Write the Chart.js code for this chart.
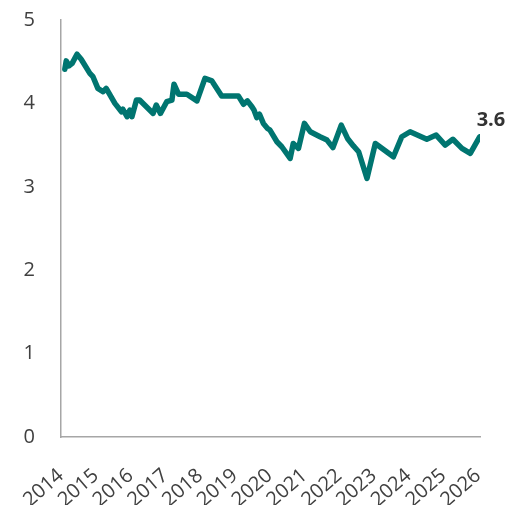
<!DOCTYPE html>
<html>
<head>
<meta charset="utf-8">
<script src="https://cdn.jsdelivr.net/npm/chart.js@4.4.1/dist/chart.umd.min.js"></script>
<style>
  html, body { margin: 0; padding: 0; background: #fff; }
  #wrap { width: 512px; height: 505px; }
</style>
</head>
<body>
<div id="wrap"><canvas id="line-chart"></canvas></div>
<script>
// series: decimal year and value
var years = [
  2014.11, 2014.15, 2014.23, 2014.32, 2014.46, 2014.58, 2014.83, 2014.92,
  2015.06, 2015.21, 2015.30, 2015.55, 2015.74, 2015.78, 2015.90, 2015.98,
  2016.04, 2016.17, 2016.26, 2016.55, 2016.65, 2016.74, 2016.86,
  2017.04, 2017.19, 2017.25, 2017.38, 2017.62, 2017.91,
  2018.14, 2018.34, 2018.62,
  2019.10, 2019.25, 2019.36, 2019.49, 2019.55, 2019.63, 2019.71, 2019.82, 2019.94,
  2020.01, 2020.21, 2020.35, 2020.59, 2020.68, 2020.83,
  2021.00, 2021.17, 2021.45, 2021.65, 2021.82,
  2022.06, 2022.24, 2022.41, 2022.56, 2022.80,
  2023.04, 2023.56, 2023.80,
  2024.04, 2024.52, 2024.79,
  2025.05, 2025.27, 2025.53, 2025.77, 2026.04
];
var values = [
  4.41, 4.51, 4.45, 4.48, 4.59, 4.53, 4.36, 4.32,
  4.18, 4.14, 4.18, 4.00, 3.90, 3.93, 3.84, 3.92,
  3.84, 4.04, 4.04, 3.92, 3.88, 3.98, 3.88,
  4.02, 4.04, 4.23, 4.11, 4.11, 4.03,
  4.30, 4.27, 4.09,
  4.09, 3.99, 4.03, 3.96, 3.92, 3.83, 3.87, 3.76, 3.70,
  3.68, 3.54, 3.48, 3.34, 3.52, 3.46,
  3.76, 3.66, 3.60, 3.56, 3.47,
  3.74, 3.58, 3.49, 3.42, 3.10,
  3.52, 3.36, 3.60,
  3.66, 3.57, 3.62,
  3.50, 3.57, 3.46, 3.40, 3.6
];
var yearTicks = [2014, 2015, 2016, 2017, 2018, 2019, 2020, 2021, 2022, 2023, 2024, 2025, 2026];
var valueTicks = [0, 1, 2, 3, 4, 5];

var lineColor = "#007570";
var textColor = "#404040";
var axisColor = "#a6a6a6";

var points = [];
for (var i = 0; i < years.length; i++) {
  points.push({ x: years[i], y: values[i] });
}

// writes the last value next to the end of the line
var lastLabel = {
  id: "lastLabel",
  afterDatasetsDraw: function(chart) {
    var meta = chart.getDatasetMeta(0);
    var pt = meta.data[meta.data.length - 1];
    var ctx = chart.ctx;
    ctx.save();
    ctx.font = "bold 20px 'Open Sans'";
    ctx.fillStyle = "#333333";
    ctx.textAlign = "left";
    ctx.textBaseline = "alphabetic";
    ctx.fillText(values[values.length - 1].toFixed(1), pt.x - 3, pt.y - 11);
    ctx.restore();
  }
};

var ctx = document.getElementById("line-chart");

var chart = new Chart(ctx, {
  type: "line",
  data: {
    datasets: [{
      data: points,
      borderColor: lineColor,
      backgroundColor: lineColor,
      borderWidth: 5.5,
      borderJoinStyle: "round",
      borderCapStyle: "round",
      pointRadius: 0,
      tension: 0,
      fill: false
    }]
  },
  options: {
    responsive: true,
    maintainAspectRatio: false,
    animation: false,
    layout: { padding: { left: 0, right: 32, top: 20, bottom: 0 } },
    plugins: {
      legend: { display: false },
      tooltip: { enabled: false }
    },
    scales: {
      x: {
        type: "linear",
        min: 2014,
        max: 2026.05,
        afterBuildTicks: function(scale) {
          scale.ticks = yearTicks.map(function(v) { return { value: v }; });
        },
        // fixed axis size, no extra room for the rotated labels
        afterFit: function(scale) {
          scale.height = 68;
          scale.paddingLeft = 0;
          scale.paddingRight = 0;
        },
        grid: { display: false, drawTicks: false },
        border: { display: true, color: axisColor, width: 1.5 },
        ticks: {
          autoSkip: false,
          maxRotation: 41,
          minRotation: 41,
          padding: 27,
          color: textColor,
          font: { family: "'Open Sans'", size: 20 },
          callback: function(v) { return String(v); }
        }
      },
      y: {
        min: 0,
        max: 5,
        afterBuildTicks: function(scale) {
          scale.ticks = valueTicks.map(function(v) { return { value: v }; });
        },
        afterFit: function(scale) {
          scale.width = 61;
          scale.paddingTop = 0;
          scale.paddingBottom = 0;
        },
        grid: { display: false, drawTicks: false },
        border: { display: true, color: axisColor, width: 1.5 },
        ticks: {
          padding: 26,
          color: textColor,
          font: { family: "'Open Sans'", size: 20 }
        }
      }
    }
  },
  plugins: [lastLabel]
});
</script>
</body>
</html>
